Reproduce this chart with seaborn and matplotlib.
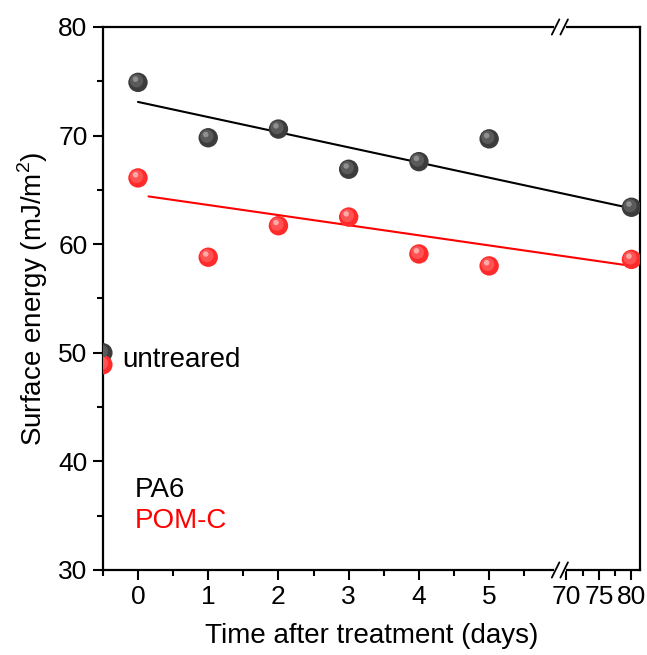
import numpy as np
import pandas as pd
import matplotlib
matplotlib.use('Agg')
import matplotlib.pyplot as plt
import matplotlib.transforms as mtransforms
import seaborn as sns

# data
days = [0, 1, 2, 3, 4, 5, 80]
pa6 = [74.9, 69.8, 70.6, 66.9, 67.6, 69.7, 63.4]
pomc = [66.1, 58.8, 61.7, 62.5, 59.1, 58.0, 58.6]
untreated_x = -0.5
untreated_pa6 = 50.0
untreated_pomc = 48.9
# linear trend end points
pa6_fit_x = [0, 80]
pa6_fit_y = [73.1, 63.3]
pomc_fit_x = [0.15, 80]
pomc_fit_y = [64.4, 58.0]

major_xticks = [0, 1, 2, 3, 4, 5, 70, 75, 80]
minor_xticks = [-0.5, 0.5, 1.5, 2.5, 3.5, 4.5, 5.5, 72.5, 77.5]

BLACK = '#3c3c3c'
RED = '#ff2b2b'

sns.set_theme(style='white')
plt.rcParams['font.family'] = ['Liberation Sans', 'DejaVu Sans']
plt.rcParams['mathtext.fontset'] = 'custom'
plt.rcParams['mathtext.rm'] = 'Liberation Sans'
plt.rcParams['text.color'] = 'black'
plt.rcParams['axes.labelcolor'] = 'black'
plt.rcParams['xtick.color'] = 'black'
plt.rcParams['ytick.color'] = 'black'


# broken x axis: 0..6 linear, then 70..80 compressed
K = 0.0926


def fwd(x):
    x = np.asarray(x, dtype=float)
    return np.where(x <= 6, x,
                    np.where(x >= 70, 6.1 + (x - 70) * K,
                             6 + (x - 6) * 0.1 / 64))


def inv(u):
    u = np.asarray(u, dtype=float)
    return np.where(u <= 6, u,
                    np.where(u >= 6.1, 70 + (u - 6.1) / K,
                             6 + (u - 6) * 64 / 0.1))


fig = plt.figure(figsize=(6.47, 6.55), dpi=100)
ax = fig.add_axes([0.159, 0.1298, 0.830, 0.829])
ax.set_xscale('function', functions=(fwd, inv))

df = pd.DataFrame({'day': days * 2,
                   'energy': pa6 + pomc,
                   'sample': ['PA6'] * len(days) + ['POM-C'] * len(days)})
df = pd.concat([df, pd.DataFrame({'day': [untreated_x, untreated_x],
                                  'energy': [untreated_pa6, untreated_pomc],
                                  'sample': ['PA6', 'POM-C']})],
               ignore_index=True)

ax.plot(pa6_fit_x, pa6_fit_y, color='black', lw=1.5, zorder=2)
ax.plot(pomc_fit_x, pomc_fit_y, color='red', lw=1.5, zorder=2)

# shaded "sphere" markers: base + lighter offset highlights
pal = {'PA6': BLACK, 'POM-C': RED}
hl1 = {'PA6': '#5a5a5a', 'POM-C': '#ff5252'}
hl2 = {'PA6': '#8f8f8f', 'POM-C': '#ffa8a8'}
sns.scatterplot(data=df, x='day', y='energy', hue='sample', palette=pal,
                s=195, edgecolor='none', legend=False, ax=ax, zorder=3)
off1 = mtransforms.offset_copy(ax.transData, fig=fig, x=-1.0, y=1.1, units='points')
off2 = mtransforms.offset_copy(ax.transData, fig=fig, x=-1.8, y=2.3, units='points')
for name, grp in df.groupby('sample'):
    ax.scatter(grp['day'], grp['energy'], s=90, color=hl1[name],
               edgecolor='none', transform=off1, zorder=4)
    ax.scatter(grp['day'], grp['energy'], s=16, color=hl2[name],
               edgecolor='none', transform=off2, zorder=5)

ax.set_xlim(-0.5, 81.3)
ax.set_ylim(30, 80)
ax.set_xticks(major_xticks)
ax.set_xticklabels([str(t) for t in major_xticks])
ax.set_xticks(minor_xticks, minor=True)
ax.set_yticks([30, 40, 50, 60, 70, 80])
ax.set_yticks([35, 45, 55, 65, 75], minor=True)
ax.tick_params(which='both', direction='out', bottom=True, left=True,
               top=False, right=False, color='black')
ax.tick_params(which='major', length=7, width=1.5, labelsize=19, pad=4)
ax.tick_params(which='minor', length=4, width=1.5)

for sp in ax.spines.values():
    sp.set_color('black')
    sp.set_linewidth(1.6)

ax.set_xlabel('Time after treatment (days)', fontsize=20, labelpad=10)
ax.set_ylabel('Surface energy (mJ/m$^2$)', fontsize=20, labelpad=6)

# axis break marks
bx = (560 - 103) / 537
for yb in (0, 1):
    ax.plot([bx - 0.008, bx + 0.008], [yb, yb], color='white', lw=3,
            transform=ax.transAxes, clip_on=False, zorder=10)
    for dx in (-0.008, 0.008):
        ax.plot([bx + dx - 0.007, bx + dx + 0.007], [yb - 0.014, yb + 0.014],
                color='black', lw=1.3, transform=ax.transAxes,
                clip_on=False, zorder=11)

ax.text(-0.23, 49.3, 'untreared', fontsize=20, va='center', ha='left')
ax.text(-0.04, 37.4, 'PA6', fontsize=20, va='center', ha='left', color='black')
ax.text(-0.04, 34.5, 'POM-C', fontsize=20, va='center', ha='left', color='red')

fig.savefig('out.png', dpi=100)
